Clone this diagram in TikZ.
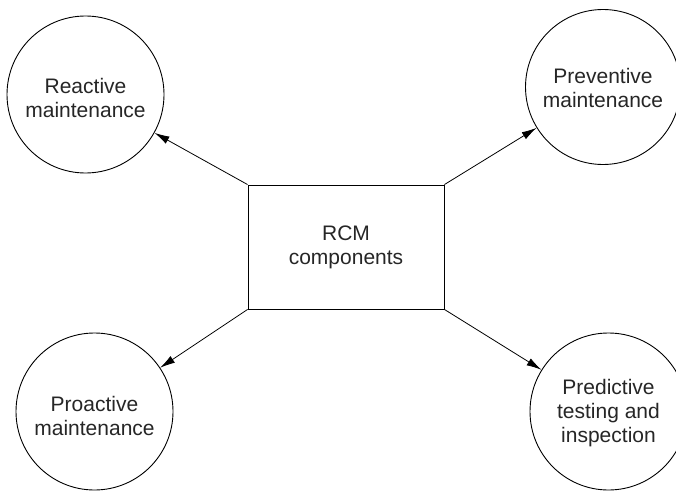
\documentclass[tikz,border=0pt]{standalone}
\usepackage{fontspec}
\setmainfont{Liberation Sans}
\usetikzlibrary{arrows.meta}
\begin{document}
\begin{tikzpicture}[x=1pt,y=1pt,
  circ/.style={draw, line width=0.9pt, circle, minimum size=157pt, inner sep=0pt},
  lbl/.style={align=center, inner sep=0pt, font=\fontsize{21}{24}\selectfont, text=black!85},
  box/.style={draw, line width=0.9pt, minimum width=196pt, minimum height=124pt, inner sep=0pt, align=center,
    font=\fontsize{21}{24}\selectfont, text=black!85},
  arr/.style={line width=0.8pt, -{Latex[length=15pt,width=8pt]}}]
\useasboundingbox (0,0) rectangle (676,491);
\node[box] (rcm) at (346,244) {RCM\\components};
\node[circ] (rea) at (85.5,396.5) {};
\node[circ, minimum size=155pt] (pre) at (603,404) {};
\node[circ] (pro) at (94.5,79.5) {};
\node[circ] (prd) at (608.5,79.5) {};
\node[lbl, yshift=-3pt] (reat) at (rea.center) {Reactive\\maintenance};
\node[lbl, yshift=-1pt] (pret) at (pre.center) {Preventive\\maintenance};
\node[lbl, yshift=-4pt] (prot) at (pro.center) {Proactive\\maintenance};
\node[lbl, yshift=-2pt] (prdt) at (prd.center) {Predictive\\testing and\\inspection};
\draw[arr] (rcm.north west) -- (rea);
\draw[arr] (rcm.north east) -- (pre);
\draw[arr] (rcm.south west) -- (pro);
\draw[arr] (rcm.south east) -- (prd);
\end{tikzpicture}
\end{document}
